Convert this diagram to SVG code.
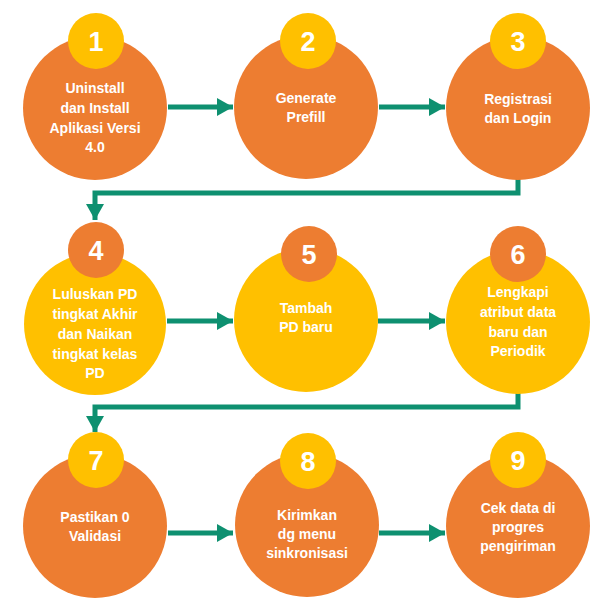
<svg xmlns="http://www.w3.org/2000/svg" width="610" height="603" viewBox="0 0 610 603">
<style>
.big-o{fill:#ED7D31}
.big-y{fill:#FFC000}
.lbl{font-family:"Liberation Sans",Arial,sans-serif;font-weight:bold;font-size:14px;fill:#FFFFFF;text-anchor:middle}
.num{font-family:"Liberation Sans",Arial,sans-serif;font-weight:bold;font-size:27px;fill:#FFFFFF;text-anchor:middle}
.conn{fill:none;stroke:#0E9070;stroke-width:5;marker-end:url(#ah)}
</style>
<defs>
<marker id="ah" markerUnits="userSpaceOnUse" markerWidth="18" markerHeight="18" refX="16" refY="9" orient="auto">
<path d="M0,0 L16,9 L0,18 Z" fill="#0E9070"/>
</marker>
</defs>
<rect width="610" height="603" fill="#FFFFFF"/>
<g id="connectors">
<path class="conn" d="M168,107 H233"/>
<path class="conn" d="M379,107 H445"/>
<path class="conn" d="M518,178 V193 H95 V220"/>
<path class="conn" d="M167,321 H233"/>
<path class="conn" d="M378,321 H445"/>
<path class="conn" d="M518,393 V407 H95 V432"/>
<path class="conn" d="M168,533 H233"/>
<path class="conn" d="M379,533 H445"/>
</g>
<g id="node1">
<circle class="big-o" cx="95" cy="108" r="72"/>
<circle class="big-y" cx="96" cy="41" r="28"/>
<text class="num" x="96" y="51">1</text>
<text class="lbl" x="95" y="93">Uninstall</text>
<text class="lbl" x="95" y="113">dan Install</text>
<text class="lbl" x="95" y="133">Aplikasi Versi</text>
<text class="lbl" x="95" y="152">4.0</text>
</g>
<g id="node2">
<circle class="big-o" cx="306" cy="107" r="72"/>
<circle class="big-y" cx="308" cy="41" r="28"/>
<text class="num" x="308" y="51">2</text>
<text class="lbl" x="306" y="103">Generate</text>
<text class="lbl" x="306" y="122">Prefill</text>
</g>
<g id="node3">
<circle class="big-o" cx="518" cy="108" r="72"/>
<circle class="big-y" cx="518" cy="41" r="28"/>
<text class="num" x="518" y="51">3</text>
<text class="lbl" x="518" y="104">Registrasi</text>
<text class="lbl" x="518" y="123">dan Login</text>
</g>
<g id="node4">
<circle class="big-y" cx="95" cy="324" r="71"/>
<circle class="big-o" cx="96" cy="250" r="28"/>
<text class="num" x="96" y="260">4</text>
<text class="lbl" x="95" y="299">Luluskan PD</text>
<text class="lbl" x="95" y="319">tingkat Akhir</text>
<text class="lbl" x="95" y="339">dan Naikan</text>
<text class="lbl" x="95" y="359">tingkat kelas</text>
<text class="lbl" x="95" y="378">PD</text>
</g>
<g id="node5">
<circle class="big-y" cx="306" cy="320" r="72"/>
<circle class="big-o" cx="309" cy="254" r="28"/>
<text class="num" x="309" y="264">5</text>
<text class="lbl" x="306" y="313">Tambah</text>
<text class="lbl" x="306" y="332">PD baru</text>
</g>
<g id="node6">
<circle class="big-y" cx="518" cy="322" r="72"/>
<circle class="big-o" cx="518" cy="254" r="28"/>
<text class="num" x="518" y="264">6</text>
<text class="lbl" x="518" y="297">Lengkapi</text>
<text class="lbl" x="518" y="317">atribut data</text>
<text class="lbl" x="518" y="337">baru dan</text>
<text class="lbl" x="518" y="356">Periodik</text>
</g>
<g id="node7">
<circle class="big-o" cx="95" cy="526" r="72"/>
<circle class="big-y" cx="96" cy="460" r="28"/>
<text class="num" x="96" y="470">7</text>
<text class="lbl" x="95" y="522">Pastikan 0</text>
<text class="lbl" x="95" y="541">Validasi</text>
</g>
<g id="node8">
<circle class="big-o" cx="307" cy="525" r="72"/>
<circle class="big-y" cx="308" cy="461" r="28"/>
<text class="num" x="308" y="471">8</text>
<text class="lbl" x="307" y="520">Kirimkan</text>
<text class="lbl" x="307" y="539">dg menu</text>
<text class="lbl" x="307" y="558">sinkronisasi</text>
</g>
<g id="node9">
<circle class="big-o" cx="518" cy="526" r="72"/>
<circle class="big-y" cx="518" cy="460" r="28"/>
<text class="num" x="518" y="470">9</text>
<text class="lbl" x="518" y="513">Cek data di</text>
<text class="lbl" x="518" y="532">progres</text>
<text class="lbl" x="518" y="551">pengiriman</text>
</g>
</svg>
